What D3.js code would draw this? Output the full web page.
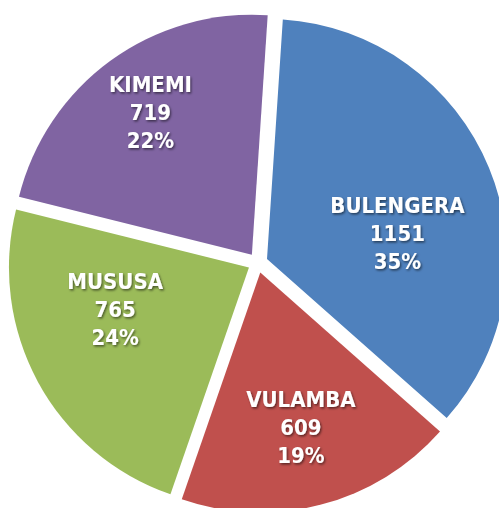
<!DOCTYPE html>
<html>
<head>
<meta charset="utf-8">
<script src="https://cdn.jsdelivr.net/npm/d3@7"></script>
<style>
  html, body { margin: 0; padding: 0; background: #fff; }
  svg { display: block; }
</style>
</head>
<body>
<div id="chart"></div>
<script>
// data
const categories = ["BULENGERA", "VULAMBA", "MUSUSA", "KIMEMI"];
const counts = [1151, 609, 765, 719];
const colors = ["#4F81BD", "#C0504D", "#9BBB59", "#8064A2"];

// label placement, relative to each slice's bisector (angle tweak in degrees, distance in px)
const labelTweak = [{a: 11, r: 133}, {a: 0, r: 160}, {a: 11.4, r: 140}, {a: 0.7, r: 175}];

const width = 499, height = 508;
const cx = 257.75, cy = 262.8, radius = 240, explode = 10;
const start = 0.066;

const svg = d3.select("#chart").append("svg")
  .attr("width", width)
  .attr("height", height);

// soft shadow under the label text
const defs = svg.append("defs");
defs.append("filter")
  .attr("id", "txtshadow")
  .attr("x", "-20%").attr("y", "-20%").attr("width", "140%").attr("height", "140%")
  .append("feDropShadow")
  .attr("dx", 1.2).attr("dy", 1.5)
  .attr("stdDeviation", 0.9)
  .attr("flood-color", "#000")
  .attr("flood-opacity", 0.55);

const total = d3.sum(counts);
const rows = categories.map(function (c, i) { return {name: c, value: counts[i], i: i}; });

const pie = d3.pie().sort(null).value(function (d) { return d.value; })
  .startAngle(start).endAngle(start + 2 * Math.PI);
const arc = d3.arc().innerRadius(0).outerRadius(radius);

const arcs = pie(rows);

const g = svg.append("g").attr("transform", "translate(" + cx + "," + cy + ")");

function offset(d) {
  let mid = (d.startAngle + d.endAngle) / 2;
  return [explode * Math.sin(mid), -explode * Math.cos(mid)];
}

const slice = g.selectAll(".slice")
  .data(arcs)
  .enter().append("g")
  .attr("class", "slice")
  .attr("transform", function (d) { let o = offset(d); return "translate(" + o[0] + "," + o[1] + ")"; });

slice.append("path")
  .attr("d", arc)
  .style("fill", function (d) { return colors[d.data.i]; });

// labels
const label = slice.append("text")
  .attr("transform", function (d) {
    let t = labelTweak[d.data.i];
    let a = (d.startAngle + d.endAngle) / 2 + t.a * Math.PI / 180;
    return "translate(" + (t.r * Math.sin(a)) + "," + (-t.r * Math.cos(a)) + ")";
  })
  .attr("text-anchor", "middle")
  .attr("filter", "url(#txtshadow)")
  .style("font-family", "'DejaVu Sans Condensed', 'DejaVu Sans', sans-serif")
  .style("font-stretch", "condensed")
  .style("font-weight", "bold")
  .style("font-size", "22px")
  .style("fill", "#fff");

label.append("tspan").attr("x", 0).attr("y", -20).text(function (d) { return d.data.name; });
label.append("tspan").attr("x", 0).attr("y", 8).text(function (d) { return d.data.value; });
label.append("tspan").attr("x", 0).attr("y", 36).text(function (d) { return Math.round(d.data.value / total * 100) + "%"; });
</script>
</body>
</html>
